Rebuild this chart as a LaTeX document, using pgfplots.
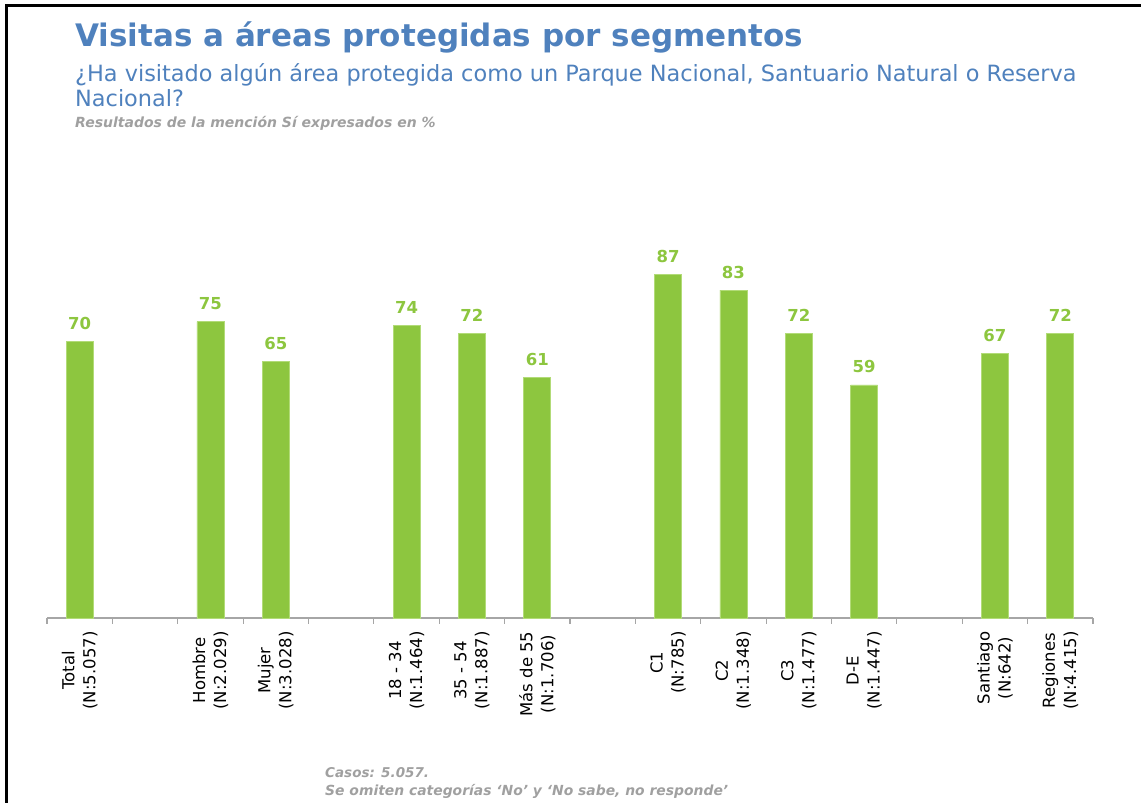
\documentclass[border=0pt]{standalone}
\usepackage{fontspec}
\setmainfont{DejaVu Sans}
\usepackage{pgfplots}
\pgfplotsset{compat=1.18}

\definecolor{barverde}{RGB}{141,198,63}
\definecolor{bordeverde}{RGB}{178,219,120}
\definecolor{azultit}{RGB}{79,129,189}
\definecolor{grisnota}{RGB}{160,160,160}
\definecolor{grisejes}{RGB}{166,166,166}

\begin{document}
\begin{tikzpicture}
  \useasboundingbox (0,0) rectangle (1141pt,803pt);
  % marco
  \draw[line width=3pt] (6pt,0pt) -- (6pt,797pt) -- (1141pt,797pt);

  % titulos
  \node[anchor=base west, inner sep=0pt, text=azultit, font=\fontsize{31}{36}\selectfont\bfseries]
    at (75pt,756pt) {Visitas a áreas protegidas por segmentos};
  \node[anchor=base west, inner sep=0pt, text=azultit, font=\fontsize{22.4}{26}\selectfont]
    at (75pt,721pt) {¿Ha visitado algún área protegida como un Parque Nacional, Santuario Natural o Reserva};
  \node[anchor=base west, inner sep=0pt, text=azultit, font=\fontsize{22.4}{26}\selectfont]
    at (75pt,696pt) {Nacional?};
  \node[anchor=base west, inner sep=0pt, text=grisnota, font=\fontsize{14}{17}\selectfont\bfseries\itshape]
    at (75pt,675pt) {Resultados de la mención Sí expresados en \%};

  \begin{axis}[
    at={(47pt,185pt)}, anchor=south west,
    scale only axis, width=1046pt, height=395pt,
    xmin=-0.5, xmax=15.5, ymin=0, ymax=100,
    axis x line*=bottom, axis y line=none,
    axis line style={draw=grisejes, line width=1.2pt},
    ybar, bar width=27pt, bar shift=0pt,
    xtick={0,2,3,5,6,7,9,10,11,12,14,15},
    xticklabels={{Total\\(N:5.057)},{Hombre\\(N:2.029)},{Mujer\\(N:3.028)},
      {18 - 34\\(N:1.464)},{35 - 54\\(N:1.887)},{Más de 55\\(N:1.706)},
      {C1\\(N:785)},{C2\\(N:1.348)},{C3\\(N:1.477)},{D-E\\(N:1.447)},
      {Santiago\\(N:642)},{Regiones\\(N:4.415)}},
    major tick length=0pt,
    xticklabel style={rotate=90, anchor=east, align=center,
      font=\fontsize{16.5}{21}\selectfont, text=black},
    xticklabel shift=10pt,
    extra x ticks={-0.5,0.5,...,15.5},
    extra x tick labels={},
    extra x tick style={major tick length=6pt, xtick align=outside,
      tick style={draw=grisejes, line width=1.2pt}},
    nodes near coords,
    /pgf/number format/assume math mode=true,
    every node near coord/.append style={text=barverde,
      font=\fontsize{16.5}{20}\selectfont\bfseries, yshift=8pt},
    clip=false,
  ]
    \addplot[fill=barverde, draw=bordeverde, line width=0.8pt] coordinates {
      (0,70) (2,75) (3,65) (5,74) (6,72) (7,61)
      (9,87) (10,83) (11,72) (12,59) (14,67) (15,72)};
  \end{axis}

  % notas al pie
  \node[anchor=base west, inner sep=0pt, text=grisnota, font=\fontsize{13.5}{17}\selectfont\bfseries\itshape]
    at (325pt,25pt) {Casos: 5.057.};
  \node[anchor=base west, inner sep=0pt, text=grisnota, font=\fontsize{13.9}{15}\selectfont\bfseries\itshape]
    at (325pt,7pt) {Se omiten categorías ‘No’ y ‘No sabe, no responde’};
\end{tikzpicture}
\end{document}
